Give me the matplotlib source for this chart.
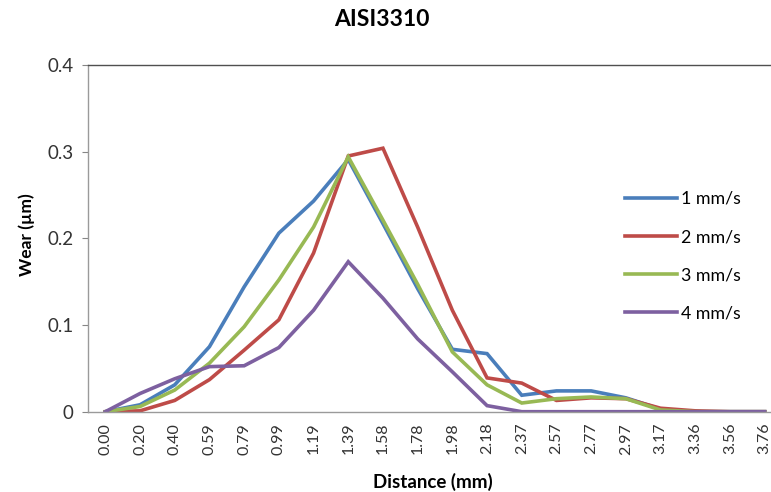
import matplotlib.pyplot as plt
import numpy as np

plt.rcParams['font.family'] = ['Lato', 'DejaVu Sans']

###############################################################################
# data

distance = ['0.00', '0.20', '0.40', '0.59', '0.79', '0.99', '1.19', '1.39',
            '1.58', '1.78', '1.98', '2.18', '2.37', '2.57', '2.77', '2.97',
            '3.17', '3.36', '3.56', '3.76']

wear_1 = [0.000, 0.008, 0.031, 0.075, 0.144, 0.206, 0.243, 0.291, 0.217,
          0.142, 0.072, 0.067, 0.019, 0.024, 0.024, 0.016, 0.003, 0.000,
          0.000, 0.000]
wear_2 = [0.000, 0.001, 0.013, 0.037, 0.071, 0.106, 0.183, 0.295, 0.304,
          0.213, 0.117, 0.039, 0.033, 0.013, 0.016, 0.015, 0.004, 0.001,
          0.000, 0.000]
wear_3 = [0.000, 0.006, 0.025, 0.056, 0.098, 0.152, 0.213, 0.294, 0.221,
          0.147, 0.069, 0.031, 0.010, 0.015, 0.017, 0.015, 0.002, 0.000,
          0.000, 0.000]
wear_4 = [0.000, 0.021, 0.038, 0.052, 0.053, 0.074, 0.117, 0.173, 0.131,
          0.084, 0.046, 0.007, 0.000, 0.000, 0.000, 0.000, 0.000, 0.000,
          0.000, 0.000]

series = [(wear_1, '1 mm/s', '#4A7EBB'),
          (wear_2, '2 mm/s', '#BE4B48'),
          (wear_3, '3 mm/s', '#98B954'),
          (wear_4, '4 mm/s', '#7D60A0')]

###############################################################################
# plot

W, H = 771, 492
fig = plt.figure(figsize=(W / 100, H / 100), dpi=100)
# axes extends past the right edge, as in the (cropped) original
ax = fig.add_axes([88 / W, (H - 411.7) / H, 694 / W, (411.7 - 65) / H])

x = np.arange(len(distance))
for ys, lab, col in series:
    ax.plot(x, ys, color=col, lw=2.6, label=lab, solid_joinstyle='miter')

ax.set_xlim(-0.5, len(distance) - 0.5)
ax.set_ylim(0, 0.4)
ax.set_yticks([0, 0.1, 0.2, 0.3, 0.4])
ax.set_yticklabels(['0', '0.1', '0.2', '0.3', '0.4'])
ax.set_xticks(x)
ax.set_xticklabels(distance, rotation=90)

ax.tick_params(axis='y', length=4.5, width=0.8, color='#868686', pad=6,
               labelsize=13.5, labelcolor='#333333')
ax.tick_params(axis='x', length=0, pad=8, labelsize=11.5,
               labelcolor='#333333')

for side in ['left', 'bottom']:
    ax.spines[side].set_color('#9a9a9a')
    ax.spines[side].set_linewidth(1.0)
ax.spines['top'].set_color('#505050')
ax.spines['top'].set_linewidth(1.0)
ax.spines['right'].set_visible(False)

fig.text(382 / W, 1 - 20 / H, 'AISI3310', ha='center', va='center',
         fontsize=16.5, fontweight='bold')
fig.text(27 / W, 1 - 235 / H, 'Wear (µm)', ha='center', va='center',
         rotation=90, fontsize=12.5, fontweight='bold')
fig.text(433 / W, 1 - 482 / H, 'Distance (mm)', ha='center', va='center',
         fontsize=13.5, fontweight='bold')

fig.legend(loc='upper left', bbox_to_anchor=(625 / W, 1 - 191 / H),
           bbox_transform=fig.transFigure, frameon=False, fontsize=12.8,
           handlelength=2.9, handletextpad=0.25, labelspacing=1.25,
           borderpad=0, borderaxespad=0)

plt.savefig('out.png', dpi=100)
